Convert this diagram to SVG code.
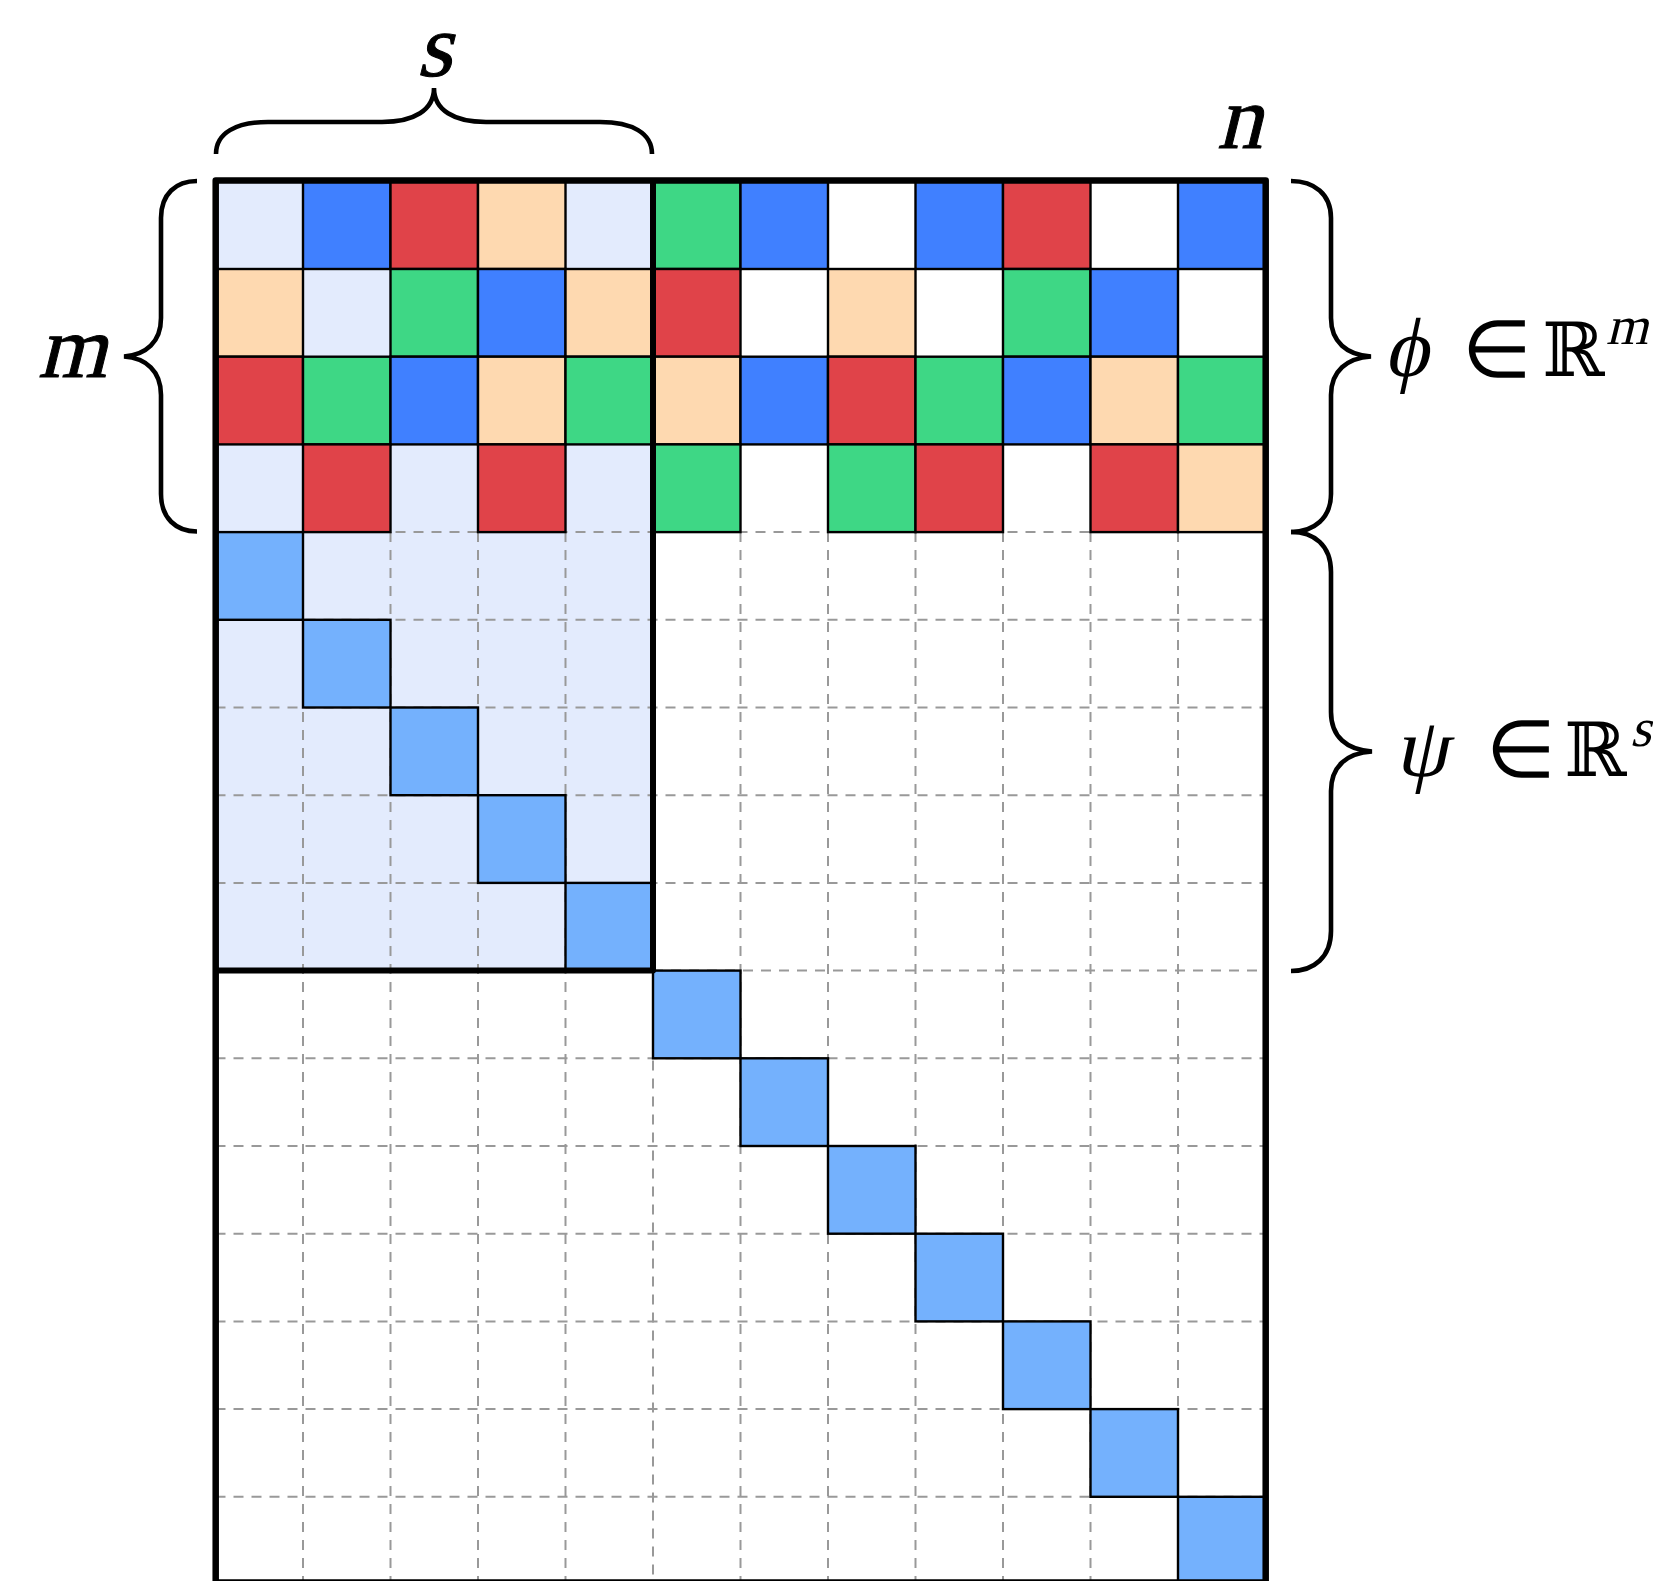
<svg xmlns="http://www.w3.org/2000/svg" width="1653" height="1581" viewBox="0 0 1653 1581">
<style>
.c{stroke:#000;stroke-width:2.4}
.B{fill:#4080FF}.R{fill:#E04349}.G{fill:#3ED785}.P{fill:#FED9B0}.D{fill:#74B1FD}
.dash{stroke:#999;stroke-width:2;stroke-dasharray:10 8;fill:none}
.thick{stroke:#000;fill:none;stroke-linejoin:round}
.brace{stroke:#000;stroke-width:4.6;fill:none}
</style>
<rect width="1653" height="1581" fill="#fff"/>
<rect id="block" x="215.5" y="181.3" width="437.5" height="789.3" fill="#E3EBFD"/>
<g id="grid">
<path class="dash" d="M303,532.1V1585M390.5,532.1V1585M478,532.1V1585M565.5,532.1V1585M653,970.6V1585M740.5,532.1V1585M828,532.1V1585M915.5,532.1V1585M1003,532.1V1585M1090.5,532.1V1585M1178,532.1V1585"/>
<path class="dash" d="M215.5,532.1H1265.5M215.5,619.8H1265.5M215.5,707.5H1265.5M215.5,795.2H1265.5M215.5,882.9H1265.5M653,970.6H1265.5M215.5,1058.3H1265.5M215.5,1146H1265.5M215.5,1233.7H1265.5M215.5,1321.4H1265.5M215.5,1409.1H1265.5M215.5,1496.8H1265.5"/>
</g>
<g id="phi-rows">
<rect class="c B" x="303" y="181.3" width="87.5" height="87.7"/>
<rect class="c R" x="390.5" y="181.3" width="87.5" height="87.7"/>
<rect class="c P" x="478" y="181.3" width="87.5" height="87.7"/>
<rect class="c G" x="653" y="181.3" width="87.5" height="87.7"/>
<rect class="c B" x="740.5" y="181.3" width="87.5" height="87.7"/>
<rect class="c B" x="915.5" y="181.3" width="87.5" height="87.7"/>
<rect class="c R" x="1003" y="181.3" width="87.5" height="87.7"/>
<rect class="c B" x="1178" y="181.3" width="87.5" height="87.7"/>

<rect class="c P" x="215.5" y="269" width="87.5" height="87.7"/>
<rect class="c G" x="390.5" y="269" width="87.5" height="87.7"/>
<rect class="c B" x="478" y="269" width="87.5" height="87.7"/>
<rect class="c P" x="565.5" y="269" width="87.5" height="87.7"/>
<rect class="c R" x="653" y="269" width="87.5" height="87.7"/>
<rect class="c P" x="828" y="269" width="87.5" height="87.7"/>
<rect class="c G" x="1003" y="269" width="87.5" height="87.7"/>
<rect class="c B" x="1090.5" y="269" width="87.5" height="87.7"/>

<rect class="c R" x="215.5" y="356.7" width="87.5" height="87.7"/>
<rect class="c G" x="303" y="356.7" width="87.5" height="87.7"/>
<rect class="c B" x="390.5" y="356.7" width="87.5" height="87.7"/>
<rect class="c P" x="478" y="356.7" width="87.5" height="87.7"/>
<rect class="c G" x="565.5" y="356.7" width="87.5" height="87.7"/>
<rect class="c P" x="653" y="356.7" width="87.5" height="87.7"/>
<rect class="c B" x="740.5" y="356.7" width="87.5" height="87.7"/>
<rect class="c R" x="828" y="356.7" width="87.5" height="87.7"/>
<rect class="c G" x="915.5" y="356.7" width="87.5" height="87.7"/>
<rect class="c B" x="1003" y="356.7" width="87.5" height="87.7"/>
<rect class="c P" x="1090.5" y="356.7" width="87.5" height="87.7"/>
<rect class="c G" x="1178" y="356.7" width="87.5" height="87.7"/>

<rect class="c R" x="303" y="444.4" width="87.5" height="87.7"/>
<rect class="c R" x="478" y="444.4" width="87.5" height="87.7"/>
<rect class="c G" x="653" y="444.4" width="87.5" height="87.7"/>
<rect class="c G" x="828" y="444.4" width="87.5" height="87.7"/>
<rect class="c R" x="915.5" y="444.4" width="87.5" height="87.7"/>
<rect class="c R" x="1090.5" y="444.4" width="87.5" height="87.7"/>
<rect class="c P" x="1178" y="444.4" width="87.5" height="87.7"/>
</g>
<g id="diagonal">
<rect class="c D" x="215.5" y="532.1" width="87.5" height="87.7"/>
<rect class="c D" x="303" y="619.8" width="87.5" height="87.7"/>
<rect class="c D" x="390.5" y="707.5" width="87.5" height="87.7"/>
<rect class="c D" x="478" y="795.2" width="87.5" height="87.7"/>
<rect class="c D" x="565.5" y="882.9" width="87.5" height="87.7"/>
<rect class="c D" x="653" y="970.6" width="87.5" height="87.7"/>
<rect class="c D" x="740.5" y="1058.3" width="87.5" height="87.7"/>
<rect class="c D" x="828" y="1146" width="87.5" height="87.7"/>
<rect class="c D" x="915.5" y="1233.7" width="87.5" height="87.7"/>
<rect class="c D" x="1003" y="1321.4" width="87.5" height="87.7"/>
<rect class="c D" x="1090.5" y="1409.1" width="87.5" height="87.7"/>
<rect class="c D" x="1178" y="1496.8" width="87.5" height="87.7"/>
</g>
<g id="borders">
<path class="thick" stroke-width="6" d="M653,180.5V970.6H215.7"/>
<rect class="thick" stroke-width="6.5" x="215.7" y="180.5" width="1050" height="1402"/>
</g>
<g id="braces">
<path id="brace-s" class="brace" d="M216,154C216,133 236,122 268,122L382,122C414,122 434,110 434,88C434,110 454,122 486,122L600,122C632,122 652,133 652,154"/>
<path id="brace-m" class="brace" d="M197,181C176,181 161,194 161,218L161,318C161,342 146,355 124,356.5C146,358 161,371 161,395L161,494C161,518 176,531.5 197,531.5"/>
<path id="brace-phi" class="brace" d="M1291,181C1314,181 1331,194 1331,218L1331,318C1331,342 1347,355 1371,356.5C1347,358 1331,371 1331,395L1331,494C1331,518 1314,532 1291,532"/>
<path id="brace-psi" class="brace" d="M1291,532C1314,532 1331,545 1331,572L1331,712C1331,737 1347,750 1372,751.5C1347,753 1331,766 1331,791L1331,931C1331,957 1314,971 1291,971"/>
</g>
<g id="labels" fill="#000" font-family="Liberation Serif, Times New Roman, serif">
<text transform="translate(434,76) skewX(-14)" font-size="90" text-anchor="middle" stroke="#000" stroke-width="1">s</text>
<text transform="translate(38,377) skewX(-14)" font-size="88" stroke="#000" stroke-width="1">m</text>
<text transform="translate(1217,147.5) skewX(-14)" font-size="90" stroke="#000" stroke-width="1">n</text>
<text transform="translate(1384,376) skewX(-12)" font-size="84">ϕ</text>
<text x="1462" y="377" font-size="80">∈</text>
<text x="1542" y="376" font-size="75" font-family="DejaVu Serif, DejaVu Sans, serif">ℝ</text>
<text transform="translate(1606,344) skewX(-14)" font-size="54">m</text>
<text transform="translate(1395,776) skewX(-12)" font-size="84">ψ</text>
<text x="1486" y="777" font-size="80">∈</text>
<text x="1564" y="776" font-size="75" font-family="DejaVu Serif, DejaVu Sans, serif">ℝ</text>
<text transform="translate(1630,746) skewX(-14)" font-size="54">s</text>
</g>
</svg>
